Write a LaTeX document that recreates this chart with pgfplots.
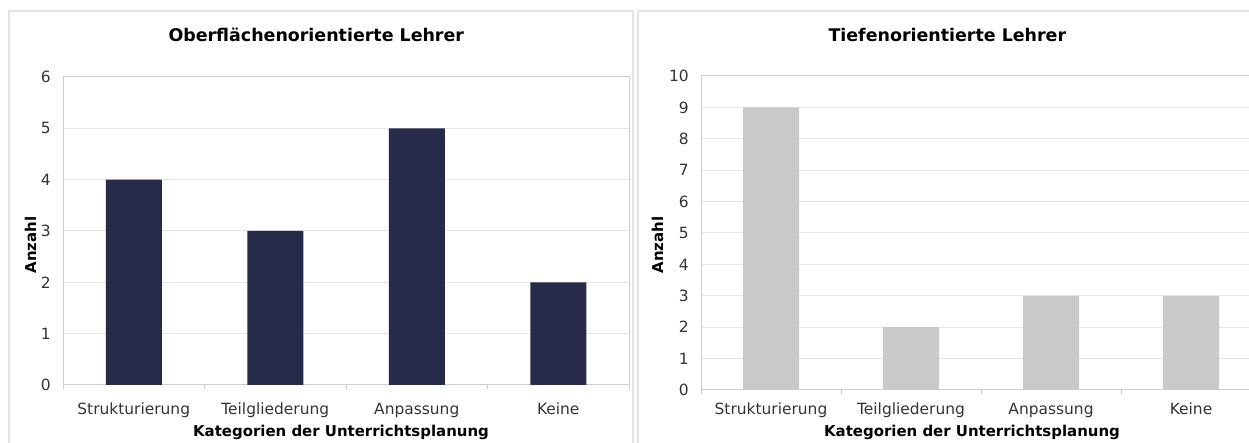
\documentclass[border=0pt]{standalone}
\usepackage{fontspec}
\setmainfont{DejaVu Sans}
\usepackage{pgfplots}
\pgfplotsset{compat=1.18}

\definecolor{navybar}{HTML}{272B4A}
\definecolor{graybar}{HTML}{C9C9C9}
\definecolor{framegray}{HTML}{CFCFCF}
\definecolor{gridgray}{HTML}{E6E6E6}
\definecolor{panelgray}{HTML}{E4E4E4}
\definecolor{txt}{HTML}{333333}

\pgfplotsset{
  planung/.style={
    scale only axis, ybar, bar width=56bp, bar shift=0pt,
    xmin=-0.5, xmax=3.5, ymin=0,
    xtick={0,1,2,3},
    xticklabels={Strukturierung,Teilgliederung,Anpassung,Keine},
    minor xtick={-0.5,0.5,1.5,2.5,3.5},
    major tick length=0pt, minor tick length=4bp,
    tick align=outside, tick pos=left,
    tick style={framegray, line width=1bp},
    ymajorgrids, major grid style={gridgray, line width=1bp},
    axis line style={framegray, line width=1bp},
    ticklabel style={font=\fontsize{15.5}{17}\selectfont, text=txt},
    /pgf/number format/assume math mode=true,
    yticklabel style={anchor=east, inner sep=0pt, xshift=-12bp},
    xticklabel style={anchor=base, inner sep=0pt},
    every axis plot/.append style={draw=none},
  }
}

\begin{document}
\begin{tikzpicture}[x=1bp, y=1bp]
\useasboundingbox (0,0) rectangle (1249,443);
\clip (0,0) rectangle (1249,443);

% panel frames
\draw[panelgray, line width=1.5bp] (9,-20) -- (9,432) -- (633,432) -- (633,-20);
\draw[panelgray, line width=1.5bp] (638,-20) -- (638,432) -- (1300,432);

% left panel
\begin{axis}[planung, at={(63bp,58bp)}, anchor=south west,
  width=566bp, height=308bp, ymax=6, ytick={0,1,...,6},
  xticklabel style={yshift=-30bp}]
  \addplot[fill=navybar] coordinates {(0,4) (1,3) (2,5) (3,2)};
\end{axis}

% right panel
\begin{axis}[planung, at={(701bp,53bp)}, anchor=south west,
  width=560bp, height=314bp, ymax=10, ytick={0,1,...,10},
  xticklabel style={yshift=-25bp}]
  \addplot[fill=graybar] coordinates {(0,9) (1,2) (2,3) (3,3)};
\end{axis}

\node[anchor=base west, font=\fontsize{17.5}{20}\bfseries\selectfont] at (165,401) {Oberflächenorientierte Lehrer};
\node[anchor=base west, font=\fontsize{17.5}{20}\bfseries\selectfont] at (825,401) {Tiefenorientierte Lehrer};

\node[anchor=base, font=\fontsize{15}{17}\bfseries\selectfont] at (341,6) {Kategorien der Unterrichtsplanung};
\node[anchor=base, font=\fontsize{15}{17}\bfseries\selectfont] at (972,6) {Kategorien der Unterrichtsplanung};

\node[anchor=base, rotate=90, font=\fontsize{15}{17}\bfseries\selectfont] at (36,198) {Anzahl};
\node[anchor=base, rotate=90, font=\fontsize{15}{17}\bfseries\selectfont] at (663,198) {Anzahl};
\end{tikzpicture}
\end{document}
